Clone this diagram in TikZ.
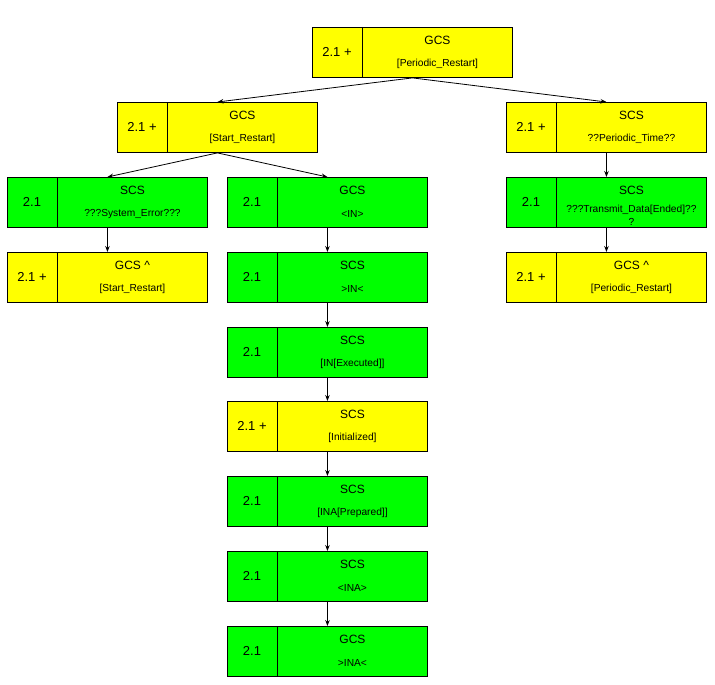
\documentclass[tikz,border=0pt]{standalone}
\usepackage{fontspec}
\setmainfont{Liberation Sans}
\usetikzlibrary{arrows.meta}
\definecolor{ylw}{HTML}{FFFF00}
\definecolor{grn}{HTML}{00FF00}
\tikzset{
  boxshape/.style={draw=black, line width=0.9pt, minimum width=200pt, minimum height=50pt, inner sep=0pt, anchor=north west},
  numtext/.style={font=\fontsize{13}{15}\selectfont, inner sep=0pt},
  titletext/.style={font=\fontsize{12}{14}\selectfont, inner sep=0pt},
  subtext/.style={font=\fontsize{10.2}{13}\selectfont, inner sep=0pt, align=center},
  conn/.style={draw=black, line width=0.8pt, -{Stealth[length=6pt,width=4.5pt,inset=2pt]}},
}
% #1 name, #2 x, #3 y, #4 colour, #5 number, #6 title, #7 subtitle
\newcommand\statebox[7]{%
  \node[boxshape, fill=#4] (#1) at (#2,#3) {};
  \draw[line width=0.9pt] ([xshift=50pt]#1.north west) -- ([xshift=50pt]#1.south west);
  \node[numtext] (#1n) at ([xshift=25pt]#1.west) {#5};
  \node[titletext] (#1t) at ([xshift=25pt,yshift=-13pt]#1.north) {#6};
  \node[subtext, anchor=center] (#1s) at ([xshift=25pt,yshift=-37pt]#1.north) {#7};
}
\begin{document}
\begin{tikzpicture}[x=1pt,y=-1pt]
\useasboundingbox (0,0) rectangle (715,685);
\statebox{top}{312}{27}{ylw}{2.1 +}{GCS}{[Periodic\_Restart]}
\statebox{la}{117}{102}{ylw}{2.1 +}{GCS}{[Start\_Restart]}
\statebox{ra}{506}{102}{ylw}{2.1 +}{SCS}{??Periodic\_Time??}
\statebox{lb}{7}{177}{grn}{2.1}{SCS}{???System\_Error???}
\statebox{lc}{7}{252}{ylw}{2.1 +}{GCS \^{}}{[Start\_Restart]}
\statebox{m1}{227}{177}{grn}{2.1}{GCS}{<IN>}
\statebox{m2}{227}{252}{grn}{2.1}{SCS}{>IN<}
\statebox{m3}{227}{327}{grn}{2.1}{SCS}{[IN[Executed]]}
\statebox{m4}{227}{401}{ylw}{2.1 +}{SCS}{[Initialized]}
\statebox{m5}{227}{476}{grn}{2.1}{SCS}{[INA[Prepared]]}
\statebox{m6}{227}{551}{grn}{2.1}{SCS}{<INA>}
\statebox{m7}{227}{626}{grn}{2.1}{GCS}{>INA<}
\node[boxshape, fill=grn] (rb) at (506,177) {};
\draw[line width=0.9pt] ([xshift=50pt]rb.north west) -- ([xshift=50pt]rb.south west);
\node[numtext] (rbn) at ([xshift=25pt]rb.west) {2.1};
\node[titletext] (rbt) at ([xshift=25pt,yshift=-13pt]rb.north) {SCS};
\node[subtext] (rbs) at ([xshift=25pt,yshift=-38.5pt]rb.north) {???Transmit\_Data[Ended]??\\?};
\statebox{rc}{506}{252}{ylw}{2.1 +}{GCS \^{}}{[Periodic\_Restart]}
\draw[conn] (top.south) -- (la.north);
\draw[conn] (top.south) -- (ra.north);
\draw[conn] (la.south) -- (lb.north);
\draw[conn] (la.south) -- (m1.north);
\draw[conn] (lb.south) -- (lc.north);
\draw[conn] (ra.south) -- (rb.north);
\draw[conn] (rb.south) -- (rc.north);
\draw[conn] (m1.south) -- (m2.north);
\draw[conn] (m2.south) -- (m3.north);
\draw[conn] (m3.south) -- (m4.north);
\draw[conn] (m4.south) -- (m5.north);
\draw[conn] (m5.south) -- (m6.north);
\draw[conn] (m6.south) -- (m7.north);
\end{tikzpicture}
\end{document}
